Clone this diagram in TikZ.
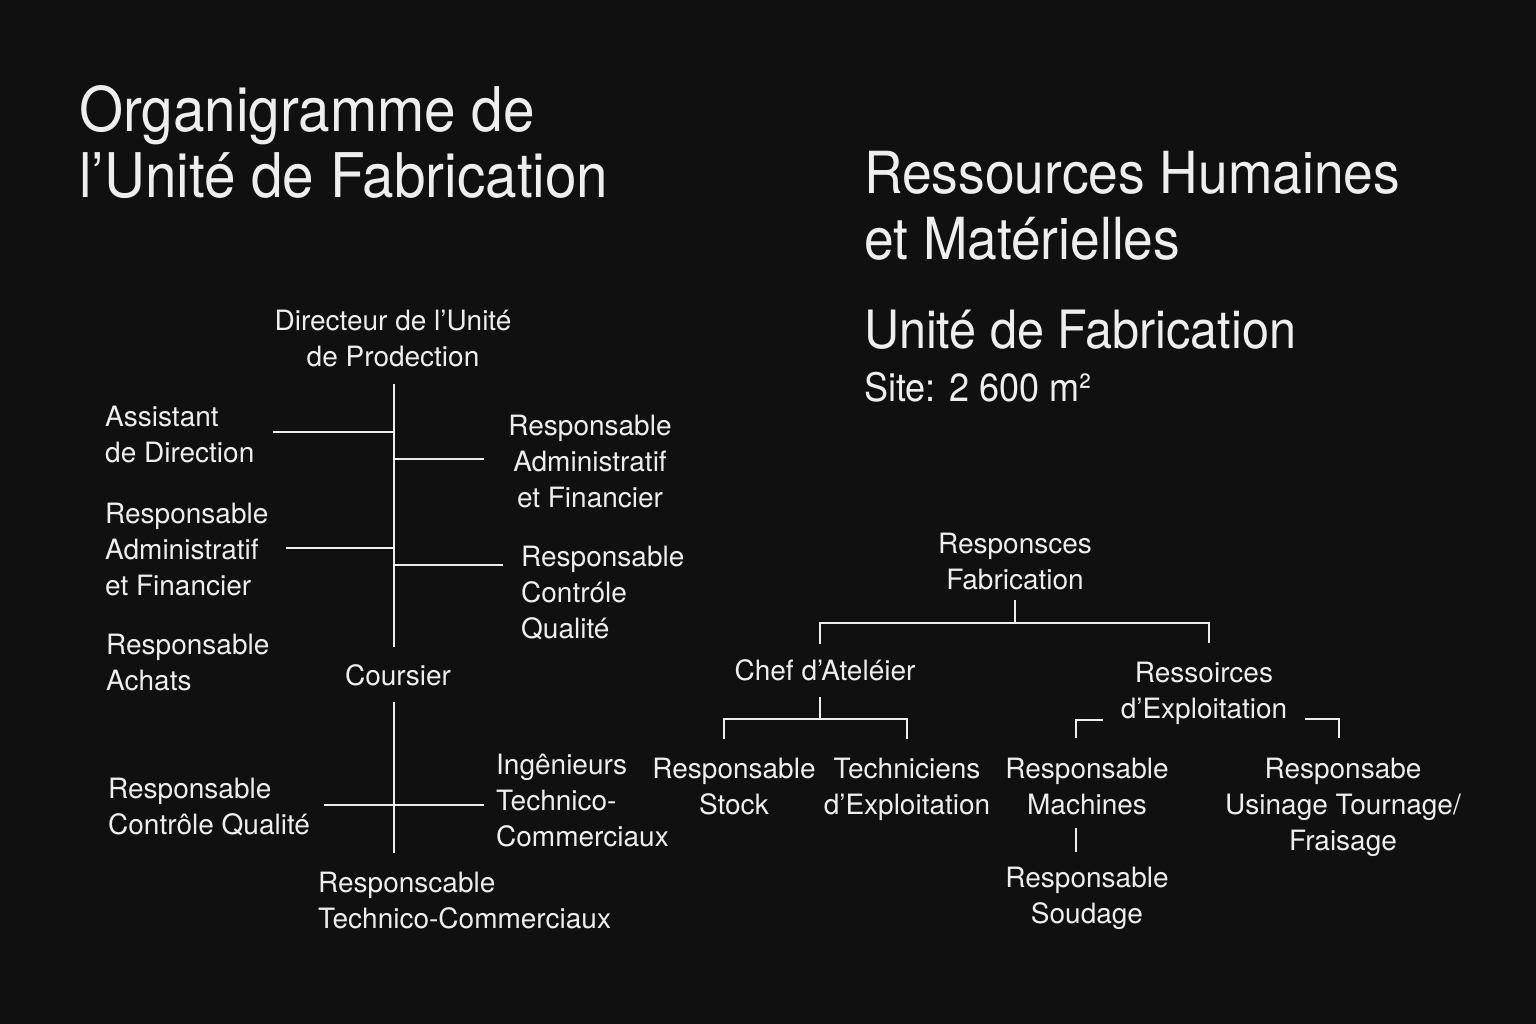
\documentclass[tikz,border=0pt]{standalone}
\usepackage{fontspec}
\setmainfont{TeX Gyre Heros}
\newfontfamily\titlefont{TeX Gyre Heros}[FakeStretch=0.92]
\definecolor{bg}{RGB}{16,16,16}
\definecolor{fg}{RGB}{238,238,238}
\newcommand{\tl}[1]{\rule{0pt}{#1pt}}
\begin{document}
\begin{tikzpicture}[x=1pt,y=-1pt,
  lbl/.style={inner sep=0pt, text=fg, font=\fontsize{28}{36}\selectfont},
  lblL/.style={lbl, align=left, anchor=north west},
  lblC/.style={lbl, align=center, anchor=north},
  lblB/.style={lbl, anchor=base},
  ttl/.style={inner sep=0pt, text=fg, align=left, anchor=north west},
  conn/.style={draw=fg, line width=2pt},
]
\fill[bg] (0,0) rectangle (1536,1024);
\useasboundingbox (0,0) rectangle (1536,1024);

% titles
\node[ttl, font=\titlefont\fontsize{61.6}{66}\selectfont] (title1) at (79,81) {\tl{50}Organigramme de\\l’Unité de Fabrication};
\node[ttl, font=\titlefont\fontsize{58}{66}\selectfont] (title2) at (864,145) {\tl{48}Ressources Humaines\\et Matérielles};
\node[inner sep=0pt, text=fg, anchor=base west, font=\titlefont\fontsize{52.8}{60}\selectfont] (title3) at (864,348) {Unité de Fabrication};
\node[inner sep=0pt, text=fg, anchor=base west, font=\titlefont\fontsize{39.2}{44}\selectfont] (site) at (864,401) {Site: 2 600 m²};

% left chart
\node[lblC] (dir) at (393,306) {\tl{24}Directeur de l’Unité\\de Prodection};
\node[lblL] (asst) at (105,402) {\tl{24}Assistant\\de Direction};
\node[lblC] (rafR) at (590,411) {\tl{24}Responsable\\Administratif\\et Financier};
\node[lblL] (rafL) at (105,499) {\tl{24}Responsable\\Administratif\\et Financier};
\node[lblL] (rcqR) at (521,542) {\tl{24}Responsable\\Contróle\\Qualité};
\node[lblL] (achats) at (106,630) {\tl{24}Responsable\\Achats};
\node[lblB] (cours) at (398,685) {Coursier};
\node[lblL] (rcqL) at (108,774) {\tl{24}Responsable\\Contrôle Qualité};
\node[lblL] (ing) at (496,750) {\tl{24}Ingênieurs\\Technico-\\Commerciaux};
\node[lblL] (rtc) at (318,868) {\tl{24}Responscable\\Technico-Commerciaux};

\coordinate (trA) at (394,384);
\coordinate (trB) at (394,647);
\coordinate (jAsst) at (394,432);
\coordinate (eAsst) at (273,432);
\coordinate (jRafR) at (394,459);
\coordinate (eRafR) at (484,459);
\coordinate (jRafL) at (394,548);
\coordinate (eRafL) at (286,548);
\coordinate (jRcqR) at (394,565);
\coordinate (eRcqR) at (503,565);
\coordinate (trC) at (394,702);
\coordinate (trD) at (394,853);
\coordinate (eRcqL) at (324,805);
\coordinate (eIng) at (484,805);

\draw[conn] (trA) -- (trB);
\draw[conn] (eAsst) -- (jAsst);
\draw[conn] (jRafR) -- (eRafR);
\draw[conn] (eRafL) -- (jRafL);
\draw[conn] (jRcqR) -- (eRcqR);
\draw[conn] (trC) -- (trD);
\draw[conn] (eRcqL) -- (eIng);

% right chart
\node[lblC] (rf) at (1015,529) {\tl{24}Responsces\\Fabrication};
\node[lblB] (chef) at (825,680) {Chef d’Ateléier};
\node[lblC] (rexp) at (1204,658) {\tl{24}Ressoirces\\d’Exploitation};
\node[lblC] (stock) at (734,754) {\tl{24}Responsable\\Stock};
\node[lblC] (tech) at (907,754) {\tl{24}Techniciens\\d’Exploitation};
\node[lblC] (mach) at (1087,754) {\tl{24}Responsable\\Machines};
\node[lblC] (soud) at (1087,863) {\tl{24}Responsable\\Soudage};
\node[lblC] (usin) at (1343,754) {\tl{24}Responsabe\\Usinage Tournage/\\Fraisage};

\coordinate (rfA) at (1015,600);
\coordinate (rfB) at (1015,623);
\coordinate (rfL) at (820,623);
\coordinate (rfLd) at (820,644);
\coordinate (rfR) at (1209,623);
\coordinate (rfRd) at (1209,643);
\coordinate (chA) at (820,697);
\coordinate (chB) at (820,719);
\coordinate (chL) at (724,719);
\coordinate (chLd) at (724,739);
\coordinate (chR) at (907,719);
\coordinate (chRd) at (907,739);
\coordinate (exL0) at (1103,720);
\coordinate (exL) at (1076,720);
\coordinate (exLd) at (1076,738);
\coordinate (exR0) at (1305,719);
\coordinate (exR) at (1339,719);
\coordinate (exRd) at (1339,738);
\coordinate (maA) at (1076,828);
\coordinate (maB) at (1076,852);

\draw[conn] (rfA) -- (rfB);
\draw[conn] (rfLd) -- (rfL) -- (rfR) -- (rfRd);
\draw[conn] (chA) -- (chB);
\draw[conn] (chLd) -- (chL) -- (chR) -- (chRd);
\draw[conn] (exL0) -- (exL) -- (exLd);
\draw[conn] (exR0) -- (exR) -- (exRd);
\draw[conn] (maA) -- (maB);
\end{tikzpicture}
\end{document}
